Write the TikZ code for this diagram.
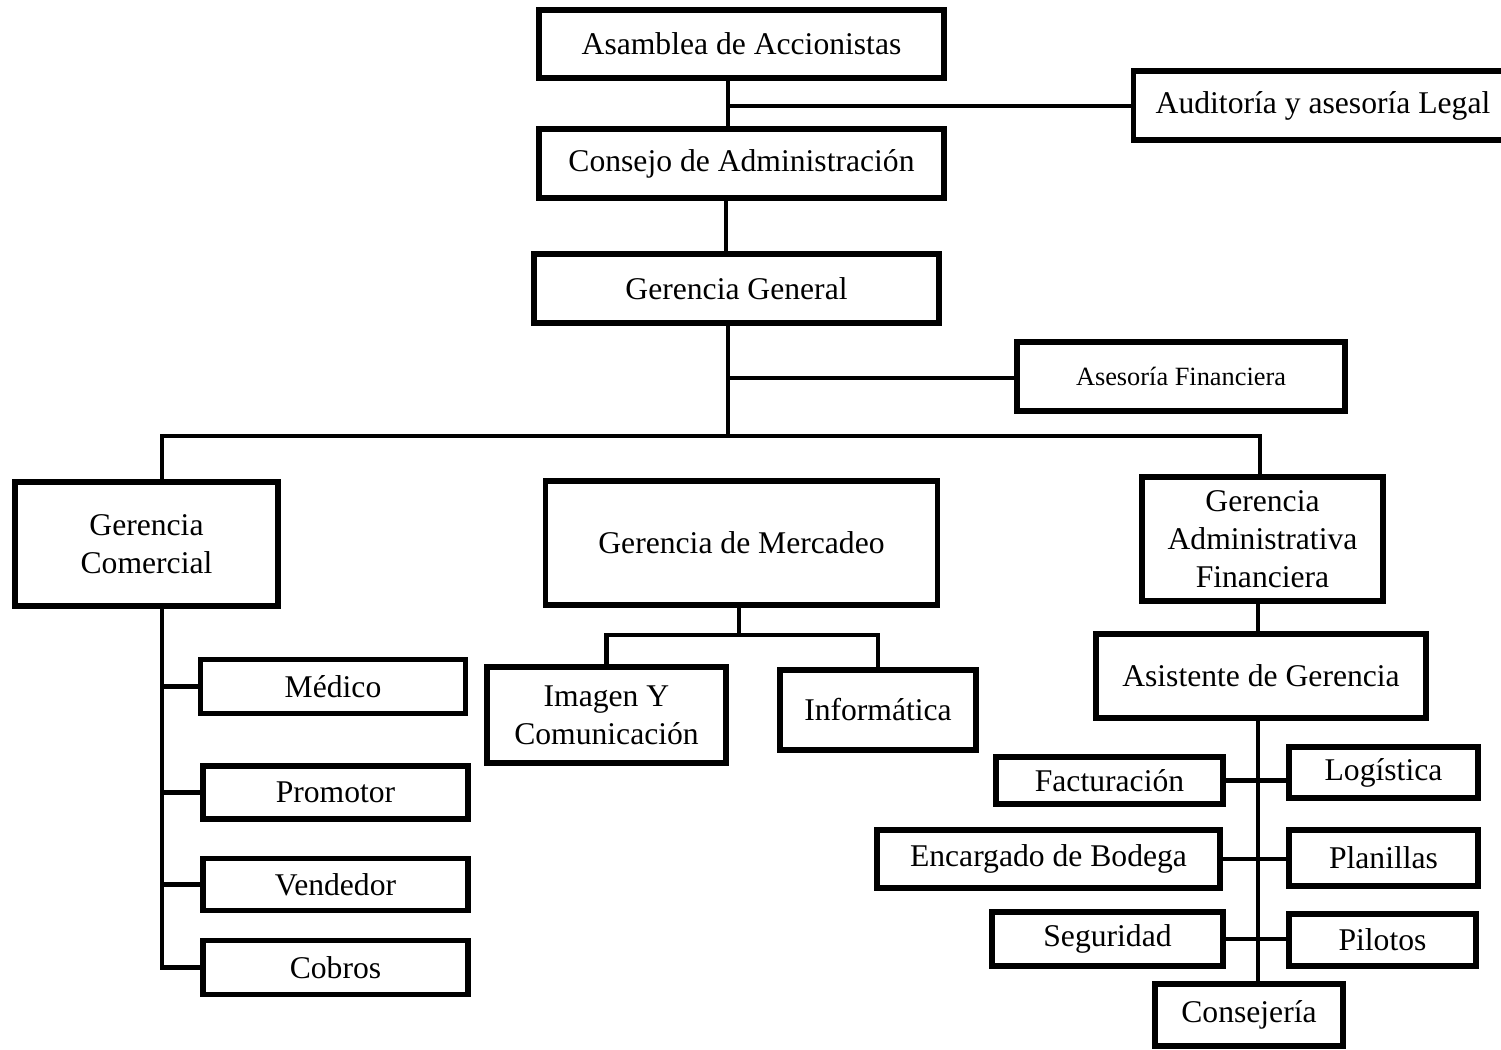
\documentclass[tikz,border=0pt]{standalone}
\usepackage{fontspec}
\setmainfont{Liberation Serif}
\usetikzlibrary{positioning}
\tikzset{
  box/.style={draw, line width=2.9pt, inner sep=1pt, align=center, font=\fontsize{18}{21.5}\selectfont},
  link/.style={line width=2.8pt},
}

\begin{document}
\begin{tikzpicture}[x=0.02cm, y=-0.02cm]
      \useasboundingbox (0, 0) rectangle (1501, 1050);

      \node [box, minimum width=8.10cm, minimum height=1.36cm] (asamblea) at (741.5, 44) {Asamblea de Accionistas};
      \node [box, minimum width=7.60cm, minimum height=1.38cm] (auditoria) at (1323, 105.5) {Auditoría y asesoría Legal};
      \node [box, minimum width=8.10cm, minimum height=1.38cm] (consejo) at (741.5, 163.5) {Consejo de Administración};
      \node [box, minimum width=8.10cm, minimum height=1.38cm] (general) at (736.5, 288.5) {Gerencia General};
      \node [box, minimum width=6.56cm, minimum height=1.38cm, font=\fontsize{15}{18}\selectfont] (asesoria) at (1181, 376.5) {Asesoría Financiera};

      \node [box, minimum width=5.26cm, minimum height=2.48cm] (gcomercial) at (146.5, 544) {Gerencia\\Comercial};
      \node [box, minimum width=7.84cm, minimum height=2.48cm] (gmercadeo) at (741.5, 543) {Gerencia de Mercadeo};
      \node [box, minimum width=4.82cm, minimum height=2.48cm] (gadmin) at (1262.5, 539) {Gerencia\\Administrativa\\Financiera};

      \node [box, minimum width=5.30cm, minimum height=1.08cm] (medico) at (333, 686.5) {Médico};
      \node [box, minimum width=5.30cm, minimum height=1.06cm] (promotor) at (335.5, 792.5) {Promotor};
      \node [box, minimum width=5.30cm, minimum height=1.04cm] (vendedor) at (335.5, 884.5) {Vendedor};
      \node [box, minimum width=5.30cm, minimum height=1.08cm] (cobros) at (335.5, 967.5) {Cobros};

      \node [box, minimum width=4.78cm, minimum height=1.92cm] (imagen) at (606.5, 715) {Imagen Y\\Comunicación};
      \node [box, minimum width=3.92cm, minimum height=1.60cm] (informatica) at (878, 710) {Informática};

      \node [box, minimum width=6.60cm, minimum height=1.68cm] (asistente) at (1261, 676) {Asistente de Gerencia};
      \node [box, minimum width=4.54cm, minimum height=0.94cm] (facturacion) at (1109.5, 780.5) {Facturación};
      \node [box, minimum width=3.78cm, minimum height=1.02cm] (logistica) at (1383.5, 772.5) {Logística};
      \node [box, minimum width=6.86cm, minimum height=1.16cm] (encargado) at (1048.5, 859) {Encargado de Bodega};
      \node [box, minimum width=3.78cm, minimum height=1.12cm] (planillas) at (1383.5, 858) {Planillas};
      \node [box, minimum width=4.62cm, minimum height=1.08cm] (seguridad) at (1107.5, 939) {Seguridad};
      \node [box, minimum width=3.74cm, minimum height=1.04cm] (pilotos) at (1382.5, 940) {Pilotos};
      \node [box, minimum width=3.76cm, minimum height=1.24cm] (consejeria) at (1249, 1015) {Consejería};

      \coordinate (topsp) at (728, 106);
      \coordinate (midsp) at (726, 0);
      \coordinate (asf) at (728, 378);
      \coordinate (bus) at (728, 436);
      \coordinate (busL) at (162, 436);
      \coordinate (busR) at (1260, 436);
      \coordinate (lsp) at (162, 0);
      \coordinate (mk) at (739, 635);
      \coordinate (asp) at (1258, 0);

      \draw [link] (topsp |- asamblea.south) -- (topsp |- consejo.north);
      \draw [link] (topsp) -- (auditoria.west |- topsp);
      \draw [link] (midsp |- consejo.south) -- (midsp |- general.north);
      \draw [link] (bus |- general.south) -- (bus);
      \draw [link] (asf) -- (asesoria.west |- asf);
      \draw [link] (busL |- gcomercial.north) -- (busL) -- (busR) -- (busR |- gadmin.north);

      \draw [link] (lsp |- gcomercial.south) -- (lsp |- cobros.west) -- (cobros.west);
      \foreach \n in {medico, promotor, vendedor}
        \draw [link] (lsp |- \n.west) -- (\n.west);

      \draw [link] (mk |- gmercadeo.south) -- (mk);
      \draw [link] (imagen.north) |- (mk) -| (informatica.north);

      \draw [link] (asp |- gadmin.south) -- (asp |- asistente.north);
      \draw [link] (asp |- asistente.south) -- (asp |- consejeria.north);
      \foreach \a/\b in {facturacion/logistica, encargado/planillas, seguridad/pilotos}
        \draw [link] (\a.east) -- (\a.east -| \b.west);
    \end{tikzpicture}
\end{document}
